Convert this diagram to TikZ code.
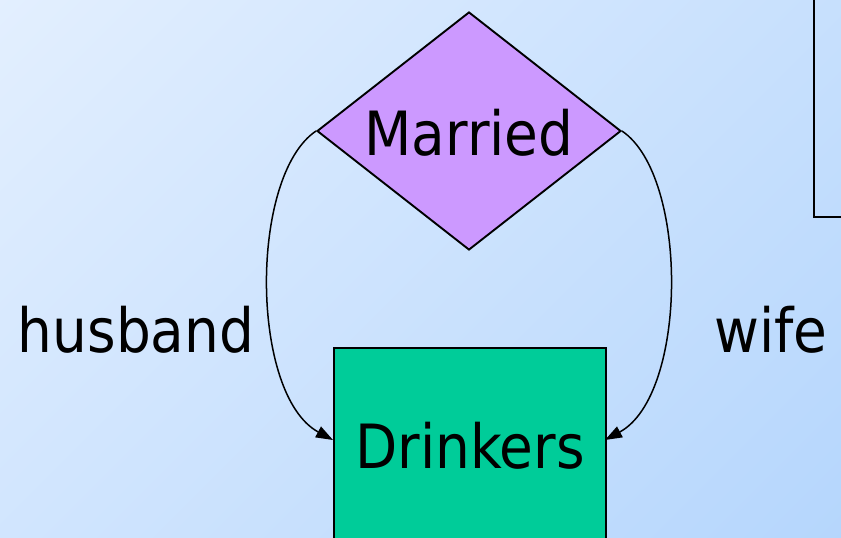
\documentclass[tikz,border=0pt]{standalone}
\usepackage{fontspec}
\setmainfont{DejaVu Sans Condensed}
\usetikzlibrary{shapes.geometric,arrows.meta}
\definecolor{bgA}{HTML}{ECF4FF}
\definecolor{bgB}{HTML}{ACD1FC}
\definecolor{relfill}{HTML}{CC99FF}
\definecolor{entfill}{HTML}{00CC99}
\pgfdeclarehorizontalshading{bgdiag}{100bp}{color(0bp)=(bgA); color(100bp)=(bgB)}
\tikzset{
  shapeline/.style={draw=black, line width=1.9pt},
  lbl/.style={anchor=base, inner sep=0pt, font=\fontsize{61}{70}\selectfont},
  roleedge/.style={draw=black, line width=1.5pt, -{Triangle[length=17pt,width=12pt]}},
}
\begin{document}
\begin{tikzpicture}[x=1pt,y=-1pt]
\useasboundingbox (0,0) rectangle (841,538);
\clip (0,0) rectangle (841,538);
\shade[shading=bgdiag, shading angle=-45] (0,0) rectangle (841,538);
% partial entity at top right
\node[shapeline, rectangle, minimum width=200pt, minimum height=300pt, inner sep=0pt, anchor=south west] (e) at (813,218) {};
% relationship
\node[shapeline, diamond, fill=relfill, minimum width=304pt, minimum height=238pt, inner sep=0pt] (m) at (469,131) {};
\node[lbl] (mt) at (469,155) {Married};
% entity
\node[shapeline, rectangle, fill=entfill, minimum width=272pt, minimum height=250pt, inner sep=0pt, anchor=north west] (d) at (333,347) {};
\node[lbl] (dt) at (470,468) {Drinkers};
\coordinate (dl) at (333,440);
\coordinate (dr) at (605,440);
% roles
\draw[roleedge] (m.west) .. controls +(-67,45) and +(-83,-45) .. (dl);
\draw[roleedge] (m.east) .. controls +(67,45) and +(83,-45) .. (dr);
\node[lbl] (h) at (136,352) {husband};
\node[lbl] (w) at (771,352) {wife};
\end{tikzpicture}
\end{document}
